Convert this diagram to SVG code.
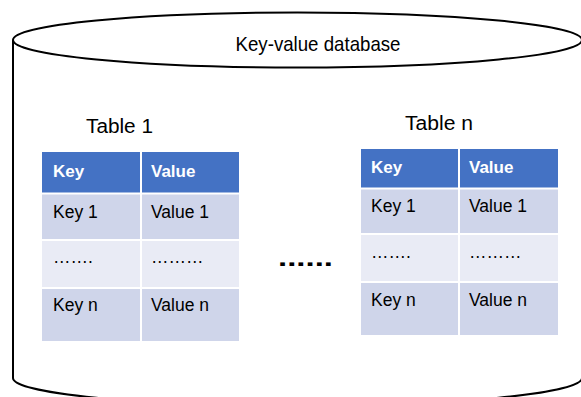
<svg xmlns="http://www.w3.org/2000/svg" width="581" height="397" viewBox="0 0 581 397">
<style>
.t{font-family:"Liberation Sans",Arial,sans-serif;fill:#000}
.big{font-size:20px}
.cell{font-size:17.5px}
.hd{font-size:17px;font-weight:bold;fill:#fff}
.h{fill:#4472C4}
.a{fill:#CFD5EA}
.b{fill:#E9EBF5}
.line{stroke:#fff;stroke-width:2}
.cyl{fill:none;stroke:#000;stroke-width:2}
</style>
<rect width="581" height="397" fill="#fff"/>
<g id="database">
<path class="cyl" d="M13,40 L13,378 A284.5,28 0 0 0 582,378 L582,40"/>
<ellipse class="cyl" cx="297.5" cy="40" rx="284.5" ry="27.5"/>
<text class="t" font-size="21" x="318" y="51" text-anchor="middle" textLength="165" lengthAdjust="spacingAndGlyphs">Key-value database</text>
</g>
<g id="table1">
<text class="t big" x="86" y="133" textLength="67" lengthAdjust="spacingAndGlyphs">Table 1</text>
<rect class="h" x="42" y="152" width="197" height="41"/>
<rect class="a" x="42" y="193" width="197" height="47"/>
<rect class="b" x="42" y="240" width="197" height="48"/>
<rect class="a" x="42" y="288" width="197" height="53"/>
<line class="line" x1="141" y1="152" x2="141" y2="341"/>
<line class="line" x1="42" y1="193.5" x2="239" y2="193.5" stroke-width="3"/>
<line class="line" x1="42" y1="240" x2="239" y2="240"/>
<line class="line" x1="42" y1="288" x2="239" y2="288"/>
<text class="t hd" x="53" y="177">Key</text>
<text class="t hd" x="151" y="177">Value</text>
<text class="t cell" x="53" y="218">Key 1</text>
<text class="t cell" x="151" y="218">Value 1</text>
<text class="t cell" x="53" y="263">…….</text>
<text class="t cell" x="151" y="263">………</text>
<text class="t cell" x="53" y="311">Key n</text>
<text class="t cell" x="151" y="311">Value n</text>
</g>
<g id="tablen">
<text class="t big" x="405" y="130" textLength="68" lengthAdjust="spacingAndGlyphs">Table n</text>
<rect class="h" x="361" y="149" width="197" height="39"/>
<rect class="a" x="361" y="188" width="197" height="46"/>
<rect class="b" x="361" y="234" width="197" height="48"/>
<rect class="a" x="361" y="282" width="197" height="53"/>
<line class="line" x1="459" y1="149" x2="459" y2="335"/>
<line class="line" x1="361" y1="188.5" x2="558" y2="188.5" stroke-width="3"/>
<line class="line" x1="361" y1="234" x2="558" y2="234"/>
<line class="line" x1="361" y1="282" x2="558" y2="282"/>
<text class="t hd" x="371" y="173">Key</text>
<text class="t hd" x="469" y="173">Value</text>
<text class="t cell" x="371" y="212">Key 1</text>
<text class="t cell" x="469" y="212">Value 1</text>
<text class="t cell" x="371" y="258">…….</text>
<text class="t cell" x="469" y="258">………</text>
<text class="t cell" x="371" y="306">Key n</text>
<text class="t cell" x="469" y="306">Value n</text>
</g>
<g id="ellipsis">
<text class="t" x="278" y="266" font-size="24" font-weight="bold" textLength="55" lengthAdjust="spacingAndGlyphs">......</text>
</g>
</svg>
